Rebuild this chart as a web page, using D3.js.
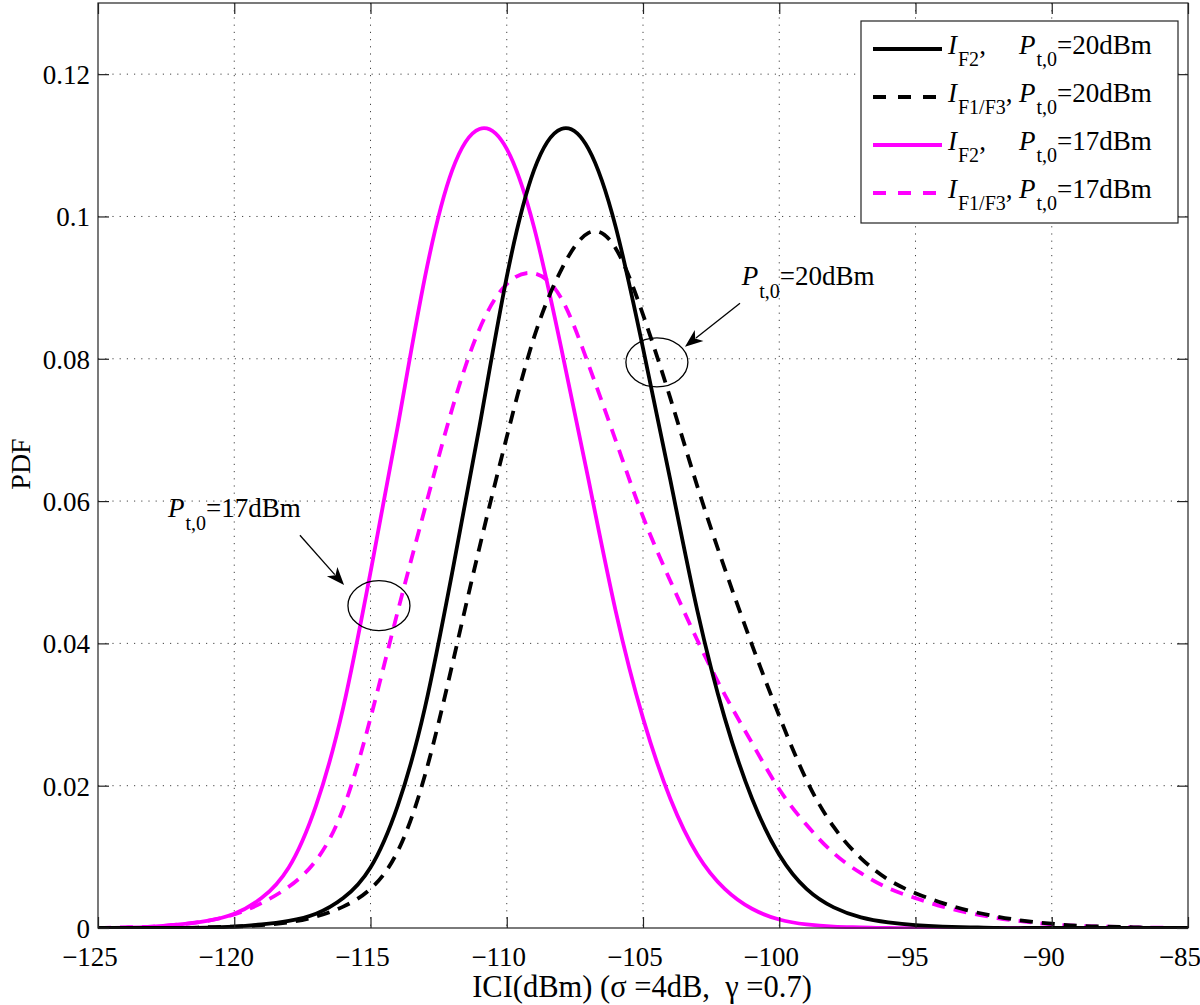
<!DOCTYPE html>
<html>
<head>
<meta charset="utf-8">
<script src="https://cdn.jsdelivr.net/npm/d3@7/dist/d3.min.js"></script>
<style>
  body { margin: 0; background: #fff; }
  svg text { font-family: "Liberation Serif", "Times New Roman", serif; fill: #000; }
</style>
</head>
<body>
<div id="chart"></div>
<script>
// ICI PDF chart
(function () {
  ///////////////////////////////////////////////////////////// ! Data
  // ICI values (dBm) where the curves were read
  const iciDbm = [
    -125, -124, -123, -122, -121, -120, -119, -118, -117, -116,
    -115, -114, -113, -112, -111, -110, -109, -108, -107, -106,
    -105, -104, -103, -102, -101, -100, -99, -98, -97, -96,
    -95, -94, -93, -92, -91, -90, -89, -88, -87, -86, -85,
  ];

  // I_F2, Pt,0 = 20dBm (black solid)
  const pdfF2At20 = [
    0, 0, 0, 0, 0.00005, 0.0002, 0.0005, 0.001, 0.002, 0.0042,
    0.0085, 0.0172, 0.031, 0.05, 0.0705, 0.0915, 0.1065, 0.1123, 0.1095, 0.0985,
    0.0815, 0.063, 0.0445, 0.0295, 0.0182, 0.0103, 0.0055, 0.0029, 0.0015, 0.0008,
    0.0004, 0.0002, 0.0001, 0, 0, 0, 0, 0, 0, 0, 0,
  ];

  // I_F1/F3, Pt,0 = 20dBm (black dashed)
  const pdfF13At20 = [
    0, 0, 0, 0, 0.0001, 0.0002, 0.0004, 0.0008, 0.0016, 0.003,
    0.0055, 0.0108, 0.0215, 0.037, 0.0535, 0.069, 0.083, 0.0925, 0.0977, 0.0955,
    0.0862, 0.0745, 0.062, 0.0505, 0.0398, 0.0298, 0.0208, 0.0142, 0.0098, 0.0068,
    0.0049, 0.0035, 0.0024, 0.0016, 0.001, 0.0006, 0.0003, 0.0002, 0.0001, 0, 0,
  ];

  // I_F2, Pt,0 = 17dBm (magenta solid)
  const pdfF2At17 = [
    0, 0.00005, 0.0002, 0.0005, 0.001, 0.002, 0.0042, 0.0085, 0.0172, 0.031,
    0.05, 0.0705, 0.0915, 0.1065, 0.1123, 0.1095, 0.0985, 0.0815, 0.063, 0.0445,
    0.0295, 0.0182, 0.0103, 0.0055, 0.0027, 0.0012, 0.0005, 0.0002, 0.0001, 0,
    0, 0, 0, 0, 0, 0, 0, 0, 0, 0, 0,
  ];

  // I_F1/F3, Pt,0 = 17dBm (magenta dashed)
  const pdfF13At17 = [
    0, 0.0001, 0.0002, 0.0005, 0.001, 0.0019, 0.0035, 0.0058, 0.0095, 0.0168,
    0.0295, 0.0445, 0.059, 0.073, 0.0842, 0.0905, 0.092, 0.0885, 0.0792, 0.0685,
    0.0578, 0.0488, 0.0404, 0.0328, 0.026, 0.0195, 0.0145, 0.0105, 0.0077, 0.0056,
    0.0042, 0.003, 0.0021, 0.0014, 0.0009, 0.0005, 0.0003, 0.0002, 0.0001, 0.00005, 0,
  ];

  const xTicks = [-125, -120, -115, -110, -105, -100, -95, -90, -85];
  const yTicks = [0, 0.02, 0.04, 0.06, 0.08, 0.1, 0.12];

  const seriesNames = [
    { sub: "F2", power: "20" },
    { sub: "F1/F3", power: "20" },
    { sub: "F2", power: "17" },
    { sub: "F1/F3", power: "17" },
  ];
  const seriesValues = [pdfF2At20, pdfF13At20, pdfF2At17, pdfF13At17];
  const seriesColors = ["#000000", "#000000", "#ff00ff", "#ff00ff"];
  const seriesDashed = [false, true, false, true];

  ///////////////////////////////////////////////////////////// ! Setup
  const fullWidth = 1200;
  const fullHeight = 1005;
  const plot = { left: 98, right: 1188, top: 3, bottom: 928 };
  const serif = '"Liberation Serif", "Times New Roman", serif';

  const svg = d3
    .select("#chart")
    .append("svg")
    .attr("width", fullWidth)
    .attr("height", fullHeight)
    .style("display", "block");

  const xScale = d3.scaleLinear().domain([-125, -85]).range([plot.left, plot.right]);
  const yScale = d3.scaleLinear().domain([0, 0.13]).range([plot.bottom, plot.top]);

  // keep the spline inside the axes box
  svg
    .append("defs")
    .append("clipPath")
    .attr("id", "plot-clip")
    .append("rect")
    .attr("x", plot.left)
    .attr("y", plot.top)
    .attr("width", plot.right - plot.left)
    .attr("height", plot.bottom - plot.top + 1);

  ///////////////////////////////////////////////////////////// ! Grid
  const grid = svg.append("g").attr("class", "grid");
  grid
    .selectAll(".vgrid")
    .data(xTicks.slice(1, -1))
    .enter()
    .append("line")
    .attr("x1", (d) => xScale(d))
    .attr("x2", (d) => xScale(d))
    .attr("y1", plot.top)
    .attr("y2", plot.bottom)
    .style("stroke", "#444")
    .style("stroke-width", 1)
    .style("stroke-dasharray", "1.2,6");

  grid
    .selectAll(".hgrid")
    .data(yTicks.slice(1))
    .enter()
    .append("line")
    .attr("x1", plot.left)
    .attr("x2", plot.right)
    .attr("y1", (d) => yScale(d))
    .attr("y2", (d) => yScale(d))
    .style("stroke", "#444")
    .style("stroke-width", 1)
    .style("stroke-dasharray", "1.2,6");

  ///////////////////////////////////////////////////////////// ! Curves
  const line = d3
    .line()
    .x((d) => xScale(d[0]))
    .y((d) => yScale(d[1]))
    .curve(d3.curveNatural);

  const curves = svg.append("g").attr("class", "curves").attr("clip-path", "url(#plot-clip)");
  // draw order: magenta first, black on top
  [2, 3, 0, 1].forEach((i) => {
    const pts = iciDbm.map((x, k) => [x, seriesValues[i][k]]);
    curves
      .append("path")
      .attr("d", line(pts))
      .style("fill", "none")
      .style("stroke", seriesColors[i])
      .style("stroke-width", 3.8)
      .style("stroke-linejoin", "round")
      .style("stroke-dasharray", seriesDashed[i] ? "13,9" : null);
  });

  ///////////////////////////////////////////////////////////// ! Axes box and ticks
  const tickLen = 11;
  const axisColor = "#222";
  svg
    .append("rect")
    .attr("x", plot.left)
    .attr("y", plot.top)
    .attr("width", plot.right - plot.left)
    .attr("height", plot.bottom - plot.top)
    .style("fill", "none")
    .style("stroke", axisColor)
    .style("stroke-width", 1.2);

  const minus = (d) => String(d).replace("-", "\u2212");
  const xAxisBottom = svg
    .append("g")
    .attr("transform", `translate(0,${plot.bottom})`)
    .call(d3.axisBottom(xScale).tickValues(xTicks).tickSize(-tickLen).tickFormat(minus));
  const xAxisTop = svg
    .append("g")
    .attr("transform", `translate(0,${plot.top})`)
    .call(d3.axisTop(xScale).tickValues(xTicks).tickSize(-tickLen).tickFormat(""));
  const yAxisLeft = svg
    .append("g")
    .attr("transform", `translate(${plot.left},0)`)
    .call(d3.axisLeft(yScale).tickValues(yTicks).tickSize(-tickLen).tickFormat((d) => (d === 0 ? "0" : String(+d.toFixed(2)))));
  const yAxisRight = svg
    .append("g")
    .attr("transform", `translate(${plot.right},0)`)
    .call(d3.axisRight(yScale).tickValues(yTicks).tickSize(-tickLen).tickFormat(""));

  [xAxisBottom, xAxisTop, yAxisLeft, yAxisRight].forEach((g) => {
    g.attr("font-family", serif).attr("font-size", 27);
    g.select(".domain").remove();
    g.selectAll("line").style("stroke", axisColor).style("stroke-width", 1.2);
    g.selectAll("text")
      .attr("font-family", serif)
      .style("font-family", serif)
      .style("font-size", "27px")
      .style("fill", "#000");
  });
  // labels sit a little left of their ticks, as in the original
  xAxisBottom.selectAll("text").attr("x", -8.5).attr("y", 19).attr("dy", "0.71em");
  yAxisLeft.selectAll("text").attr("x", -8).attr("dy", "0.35em");

  ///////////////////////////////////////////////////////////// ! Axis labels
  svg
    .append("text")
    .attr("x", 642)
    .attr("y", 997)
    .attr("xml:space", "preserve")
    .style("text-anchor", "middle")
    .style("font-size", "30.5px")
    .style("white-space", "pre")
    .text("ICI(dBm) (\u03C3 =4dB,  \u03B3 =0.7)");

  svg
    .append("text")
    .attr("transform", "rotate(-90)")
    .attr("x", -464)
    .attr("y", 30)
    .style("text-anchor", "middle")
    .style("font-size", "28px")
    .text("PDF");

  ///////////////////////////////////////////////////////////// ! Legend
  const legend = svg.append("g").attr("class", "legend");
  legend
    .append("rect")
    .attr("x", 861)
    .attr("y", 21)
    .attr("width", 317)
    .attr("height", 202)
    .style("fill", "#fff")
    .style("stroke", axisColor)
    .style("stroke-width", 1.2);

  const rowY = [49, 97, 145, 193];
  seriesNames.forEach((s, i) => {
    legend
      .append("line")
      .attr("x1", 873)
      .attr("x2", 942)
      .attr("y1", rowY[i])
      .attr("y2", rowY[i])
      .style("stroke", seriesColors[i])
      .style("stroke-width", 3.8)
      .style("stroke-dasharray", seriesDashed[i] ? "13,12" : null);

    const t = legend
      .append("text")
      .attr("x", 948)
      .attr("y", rowY[i] + 5)
      .style("font-size", "27px");
    t.append("tspan").style("font-style", "italic").text("I");
    t.append("tspan").attr("dx", 1).attr("dy", 12).style("font-size", "20px").text(s.sub);
    t.append("tspan").attr("dy", -12).text(",");
    t.append("tspan").attr("x", 1019).style("font-style", "italic").text("P");
    t.append("tspan").attr("dx", 1).attr("dy", 12).style("font-size", "20px").text("t,0");
    t.append("tspan").attr("dy", -12).text(`=${s.power}dBm`);
  });

  ///////////////////////////////////////////////////////////// ! Annotations
  const annotations = [
    { power: "20", textX: -101.38, textY: 0.0904, from: [-101.44, 0.0878], to: [-103.46, 0.0817], ellipse: [-104.49, 0.0795], rx: 31, ry: 24.5 },
    { power: "17", textX: -122.43, textY: 0.0578, from: [-117.59, 0.0552], to: [-115.97, 0.0482], ellipse: [-114.69, 0.0453], rx: 31, ry: 25 },
  ];

  const notes = svg.append("g").attr("class", "annotations");
  annotations.forEach((a) => {
    const t = notes
      .append("text")
      .attr("x", xScale(a.textX))
      .attr("y", yScale(a.textY))
      .style("font-size", "27px");
    t.append("tspan").style("font-style", "italic").text("P");
    t.append("tspan").attr("dx", 1).attr("dy", 13).style("font-size", "20px").text("t,0");
    t.append("tspan").attr("dy", -13).text(`=${a.power}dBm`);

    notes
      .append("ellipse")
      .attr("cx", xScale(a.ellipse[0]))
      .attr("cy", yScale(a.ellipse[1]))
      .attr("rx", a.rx)
      .attr("ry", a.ry)
      .style("fill", "none")
      .style("stroke", "#000")
      .style("stroke-width", 1.3);

    // arrow shaft + head
    const x0 = xScale(a.from[0]);
    const y0 = yScale(a.from[1]);
    const x1 = xScale(a.to[0]);
    const y1 = yScale(a.to[1]);
    const len = Math.hypot(x1 - x0, y1 - y0);
    const ux = (x1 - x0) / len;
    const uy = (y1 - y0) / len;
    const headLen = 18;
    const headW = 7;
    const bx = x1 - ux * headLen;
    const by = y1 - uy * headLen;
    const nx = -uy;
    const ny = ux;
    notes
      .append("line")
      .attr("x1", x0)
      .attr("y1", y0)
      .attr("x2", bx + ux * 4)
      .attr("y2", by + uy * 4)
      .style("stroke", "#000")
      .style("stroke-width", 1.3);
    notes
      .append("path")
      .attr(
        "d",
        `M${x1},${y1} L${bx + nx * headW},${by + ny * headW} L${bx + ux * 5},${by + uy * 5} L${bx - nx * headW},${by - ny * headW} Z`
      )
      .style("fill", "#000");
  });
})();
</script>
</body>
</html>
